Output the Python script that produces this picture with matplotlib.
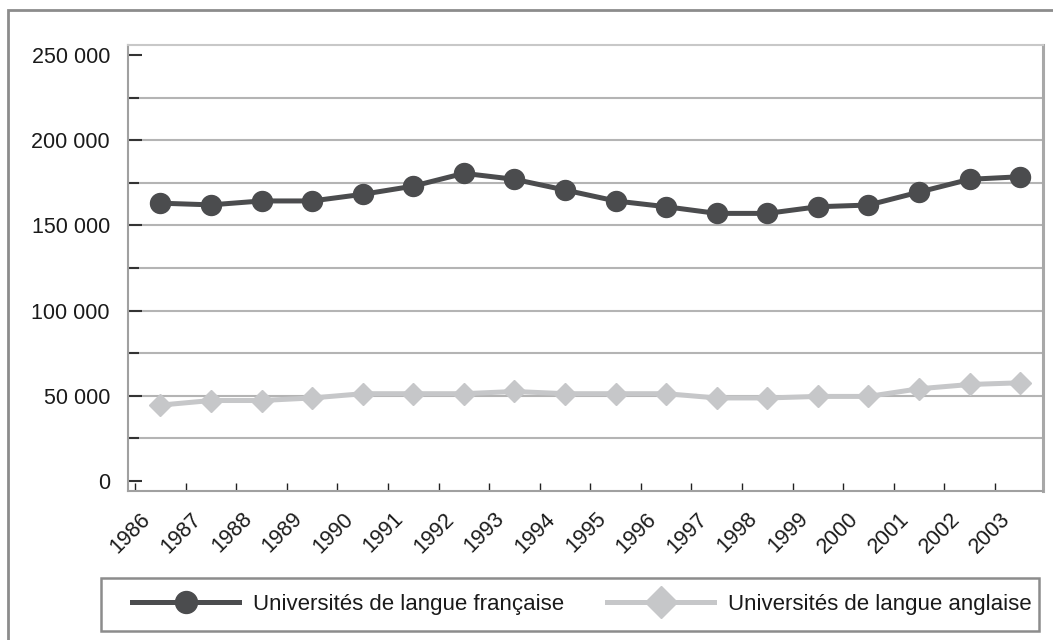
import matplotlib
matplotlib.use("Agg")
import matplotlib.pyplot as plt
import matplotlib.transforms as mtransforms
from matplotlib.patches import Rectangle
from matplotlib.ticker import FuncFormatter, MultipleLocator
import numpy as np

# pas d'Arial Narrow ici : Liberation Sans, un peu plus petit pour garder les largeurs
plt.rcParams['font.family'] = ['Liberation Sans', 'DejaVu Sans']

# données
annees = ['1986', '1987', '1988', '1989', '1990', '1991', '1992', '1993', '1994',
          '1995', '1996', '1997', '1998', '1999', '2000', '2001', '2002', '2003']
francaise = [163000, 162000, 164300, 164300, 168200, 173000, 180500, 177000, 170700,
             164300, 160900, 157000, 157000, 160900, 161900, 169500, 177000, 178500]
anglaise = [44500, 47200, 47200, 48700, 51200, 51200, 51200, 52500, 51200,
            51200, 51200, 48700, 48700, 49600, 49600, 54100, 56600, 57600]

FONCE = '#4b4c4e'
CLAIR = '#c6c7c9'
TEXTE = '#1a1a1a'
W, H = 1053, 640

fig = plt.figure(figsize=(W / 100, H / 100), dpi=100)
ax = fig.add_axes([128 / W, 1 - 490.5 / H, 915 / W, 446 / H])

x = np.arange(len(annees))
ax.plot(x, francaise, color=FONCE, lw=3.6, marker='o', ms=14.4,
        label='Universités de langue française', zorder=4)
ax.plot(x, anglaise, color=CLAIR, lw=3.6, marker='D', ms=11.7,
        label='Universités de langue anglaise', zorder=3)

ax.set_xlim(-0.64, 17.45)
ax.set_ylim(-5600, 256100)

# axe Y : étiquettes tous les 50 000, quadrillage tous les 25 000
ax.yaxis.set_major_locator(MultipleLocator(50000))
ax.yaxis.set_minor_locator(MultipleLocator(25000))
ax.yaxis.set_major_formatter(FuncFormatter(lambda v, p: f"{int(round(v)):,}".replace(',', ' ')))
ax.tick_params(axis='y', which='major', direction='in', length=10, width=1.5,
               color='#333333', labelsize=15.5, pad=13, labelcolor=TEXTE)
ax.tick_params(axis='y', which='minor', direction='in', length=8, width=1.5, color='#333333')
for v in np.arange(25000, 250000, 25000):
    ax.axhline(v, color='#b4b4b4', lw=1.5, zorder=1)

# axe X : graduations et années aux limites des catégories
ax.set_xticks(x - 0.5)
ax.set_xticklabels(annees, rotation=45, ha='right', va='top', rotation_mode='anchor',
                   fontsize=15.5, color=TEXTE)
ax.tick_params(axis='x', direction='in', length=6, width=1, color='#222222', pad=13)
decal = mtransforms.ScaledTranslation(5 / 100, 0, fig.dpi_scale_trans)
for lab in ax.get_xticklabels():
    lab.set_transform(lab.get_transform() + decal)

ax.spines['left'].set_color('#a0a0a0')
ax.spines['left'].set_linewidth(1.5)
ax.spines['bottom'].set_color('#a0a0a0')
ax.spines['bottom'].set_linewidth(1.5)
ax.spines['top'].set_color('#c8c8c8')
ax.spines['top'].set_linewidth(1.5)
ax.spines['right'].set_color('#a8a8a8')
ax.spines['right'].set_linewidth(2.2)

# légende
leg = fig.legend(loc='center left', bbox_to_anchor=(132 / W, 1 - 604.5 / H), ncol=2,
                 frameon=False, fontsize=16, borderpad=0, handlelength=4.82,
                 handletextpad=0.63, columnspacing=1.94, borderaxespad=0)
for t in leg.get_texts():
    t.set_color(TEXTE)
leg.legend_handles[0].set_markersize(15.8)
leg.legend_handles[1].set_markersize(16.3)

fig.add_artist(Rectangle((101 / W, 1 - 631 / H), 938 / W, 53 / H, transform=fig.transFigure,
                         fill=False, edgecolor='#8c8c8c', lw=1.8))
# cadre extérieur (seuls les bords gauche et haut sont visibles)
fig.add_artist(Rectangle((8 / W, -0.1), 1.2, 1.1 - 10 / H, transform=fig.transFigure,
                         fill=False, edgecolor='#8c8c8c', lw=2))

fig.savefig('out.png', dpi=100)
